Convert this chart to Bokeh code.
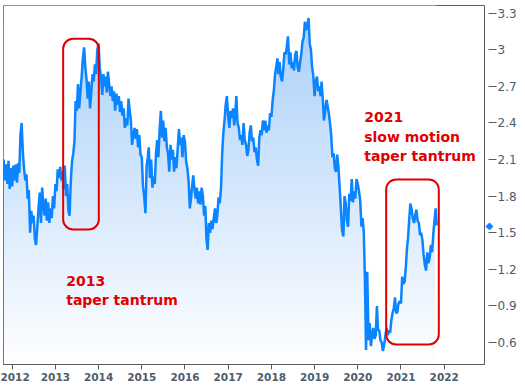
import numpy as np
import pandas as pd
from bokeh.plotting import figure
from bokeh.models import (FixedTicker, NumeralTickFormatter, CustomJSTickFormatter,
                          BoxAnnotation, Label, Range1d, LinearAxis)
from bokeh.embed import file_html
from bokeh.resources import INLINE

# 10-year yield, sampled on the 1st, 11th and 21st of each month
y2011 = [2.10, 1.93, 2.06, 1.90, 2.09, 1.86, 2.03]  # Oct 21, Nov, Dec
y2012 = [1.88, 2.05, 1.93, 2.06, 1.91, 2.07, 1.99, 2.30, 2.40, 2.15, 2.02, 1.93,
         1.98, 1.78, 1.85, 1.50, 1.68, 1.58, 1.64, 1.45, 1.40, 1.55, 1.70, 1.83,
         1.58, 1.87, 1.72, 1.64, 1.78, 1.60, 1.75, 1.58, 1.70, 1.62, 1.80, 1.70]
y2013 = [1.90, 1.84, 2.02, 1.95, 2.04, 1.93, 2.00, 1.86, 2.05, 1.80, 1.90, 1.68,
         1.64, 1.92, 2.08, 2.15, 2.25, 2.58, 2.50, 2.72, 2.52, 2.66, 2.78, 2.93,
         3.02, 2.85, 2.76, 2.60, 2.74, 2.52, 2.66, 2.80, 2.74, 2.88, 2.80, 3.00]
y2014 = [3.05, 2.85, 2.78, 2.63, 2.80, 2.70, 2.78, 2.65, 2.82, 2.71, 2.62, 2.70,
         2.58, 2.66, 2.50, 2.64, 2.55, 2.62, 2.49, 2.58, 2.46, 2.52, 2.36, 2.44,
         2.38, 2.60, 2.50, 2.42, 2.22, 2.30, 2.36, 2.27, 2.35, 2.20, 2.30, 2.14]
y2015 = [2.12, 1.88, 1.80, 1.66, 2.05, 2.12, 2.20, 1.95, 2.10, 1.87, 1.96, 1.90,
         2.15, 2.26, 2.12, 2.35, 2.50, 2.28, 2.42, 2.25, 2.36, 2.20, 2.15, 2.00,
         2.22, 2.10, 2.18, 2.00, 2.12, 2.03, 2.20, 2.35, 2.22, 2.28, 2.12, 2.30]
y2016 = [2.24, 2.08, 2.03, 1.92, 1.70, 1.78, 1.88, 1.97, 1.86, 1.78, 1.87, 1.74,
         1.84, 1.73, 1.87, 1.80, 1.64, 1.72, 1.45, 1.36, 1.58, 1.50, 1.60, 1.53,
         1.62, 1.70, 1.58, 1.64, 1.79, 1.74, 1.86, 2.15, 2.32, 2.42, 2.55, 2.62]
y2017 = [2.45, 2.36, 2.50, 2.44, 2.52, 2.38, 2.46, 2.62, 2.40, 2.36, 2.26, 2.30,
         2.22, 2.40, 2.26, 2.22, 2.13, 2.18, 2.32, 2.38, 2.25, 2.28, 2.16, 2.20,
         2.10, 2.05, 2.28, 2.34, 2.30, 2.42, 2.34, 2.42, 2.32, 2.38, 2.34, 2.48]
y2018 = [2.45, 2.58, 2.66, 2.80, 2.86, 2.93, 2.80, 2.90, 2.78, 2.74, 2.84, 2.98,
         2.96, 3.02, 3.11, 2.88, 2.98, 2.85, 2.90, 2.83, 2.96, 2.99, 2.86, 2.82,
         2.90, 2.97, 3.07, 3.10, 3.23, 3.16, 3.20, 3.26, 3.05, 3.00, 2.86, 2.79]
y2019 = [2.62, 2.74, 2.78, 2.66, 2.70, 2.62, 2.74, 2.60, 2.42, 2.50, 2.59, 2.54,
         2.48, 2.40, 2.30, 2.12, 2.15, 2.03, 2.00, 2.14, 2.04, 1.87, 1.70, 1.52,
         1.47, 1.80, 1.74, 1.60, 1.55, 1.82, 1.76, 1.94, 1.75, 1.84, 1.78, 1.94]
y2020 = [1.90, 1.84, 1.77, 1.55, 1.62, 1.50, 1.13, 0.54, 1.18, 0.62, 0.76, 0.57,
         0.66, 0.72, 0.63, 0.66, 0.90, 0.70, 0.70, 0.62, 0.60, 0.53, 0.58, 0.65,
         0.72, 0.66, 0.70, 0.68, 0.78, 0.84, 0.88, 0.97, 0.84, 0.85, 0.92, 0.94]
y2021 = [0.92, 1.14, 1.08, 1.10, 1.22, 1.38, 1.45, 1.60, 1.74, 1.69, 1.62, 1.58,
         1.64, 1.69, 1.60, 1.58, 1.48, 1.50, 1.44, 1.32, 1.24, 1.19, 1.34, 1.25,
         1.30, 1.40, 1.34, 1.49, 1.60, 1.70, 1.56]  # last: Oct 29

x_ticks = [2012, 2013, 2014, 2015, 2016, 2017, 2018, 2019, 2020, 2021, 2022]
y_ticks = [0.6, 0.9, 1.2, 1.5, 1.8, 2.1, 2.4, 2.7, 3.0, 3.3]

note_2013 = ["2013", "taper tantrum"]
note_2021 = ["2021", "slow motion", "taper tantrum"]

RED = "#e00000"
BLUE = "#0a84ff"
AXIS = "#5a5a5a"
LABEL = "#4e5d6c"


def month_days(year, months):
    return [pd.Timestamp(year, m, d) for m in months for d in (1, 11, 21)]


dates = [pd.Timestamp(2011, 10, 21)] + month_days(2011, [11, 12])
for yr in range(2012, 2021):
    dates += month_days(yr, range(1, 13))
dates += month_days(2021, range(1, 11)) + [pd.Timestamp(2021, 10, 29)]

values = y2011 + y2012 + y2013 + y2014 + y2015 + y2016 + y2017 + y2018 + y2019 + y2020 + y2021
assert len(dates) == len(values)


def dec_year(t):
    n = 366 if t.is_leap_year else 365
    return t.year + (t.dayofyear - 1) / n


xs = [dec_year(t) for t in dates]

x0, x1 = 2011.799, 2022.933
y0, y1 = 0.42, 3.363

p = figure(frame_width=481, frame_height=359,
           x_range=Range1d(x0, x1), y_range=Range1d(y0, y1),
           y_axis_location="right", output_backend="svg", toolbar_location=None,
           min_border_left=3, min_border_top=5, min_border_right=0, min_border_bottom=0)
p.grid.visible = False
p.outline_line_color = AXIS
p.outline_line_width = 1
p.background_fill_color = "white"
p.border_fill_color = "white"

# vertical gradient under the line, masked with white above it
rows = 256
top = np.array([168, 207, 250], dtype=float)
white = np.array([255, 255, 255], dtype=float)
t = np.linspace(0, 1, rows)[:, None]
cols = white * (1 - t) + top * t
img = np.empty((rows, 1), dtype=np.uint32)
view = img.view(dtype=np.uint8).reshape((rows, 1, 4))
view[:, 0, 0] = cols[:, 0].astype(np.uint8)
view[:, 0, 1] = cols[:, 1].astype(np.uint8)
view[:, 0, 2] = cols[:, 2].astype(np.uint8)
view[:, 0, 3] = 255
p.image_rgba(image=[img], x=xs[0], y=y0, dw=xs[-1] - xs[0] - 0.03, dh=y1 - y0)
p.varea(x=xs, y1=values, y2=y1, fill_color="white")
p.line(xs, values, line_color=BLUE, line_width=2.5)

# x axis
xa = p.xaxis[0]
xa.ticker = FixedTicker(ticks=x_ticks)
xa.formatter = NumeralTickFormatter(format="0")
xa.axis_line_color = AXIS
xa.major_tick_line_color = AXIS
xa.major_tick_out = 5
xa.major_tick_in = 0
xa.minor_tick_line_color = None
xa.major_label_text_color = LABEL
xa.major_label_text_font = "DejaVu Sans"
xa.major_label_text_font_size = "10.5px"
xa.major_label_text_font_style = "bold"
xa.major_label_standoff = 3

# inner right axis: only the last-value diamond marker
da = p.yaxis[0]
da.ticker = FixedTicker(ticks=[values[-1]])
da.formatter = CustomJSTickFormatter(code="return '\u25c6';")
da.axis_line_color = None
da.major_tick_out = 0
da.major_tick_in = 0
da.minor_tick_line_color = None
da.major_label_standoff = 1
da.major_label_text_color = BLUE
da.major_label_text_font = "DejaVu Sans"
da.major_label_text_font_size = "10px"

# outer right axis: the value ticks
ya = LinearAxis(ticker=FixedTicker(ticks=y_ticks),
                formatter=NumeralTickFormatter(format="0.[0]"))
ya.axis_line_color = None
ya.major_tick_line_color = AXIS
ya.major_tick_in = 8
ya.major_tick_out = 0
ya.minor_tick_line_color = None
ya.major_label_text_color = LABEL
ya.major_label_text_font = "DejaVu Sans"
ya.major_label_text_font_size = "12px"
ya.major_label_standoff = 1
p.add_layout(ya, "right")

# highlight boxes
p.add_layout(BoxAnnotation(left=2013.18, right=2014.005, top=3.09, bottom=1.527,
                           fill_alpha=0, line_color=RED, line_alpha=1, line_width=2,
                           border_radius=10))
p.add_layout(BoxAnnotation(left=2020.657, right=2021.875, top=1.937, bottom=0.584,
                           fill_alpha=0, line_color=RED, line_alpha=1, line_width=2,
                           border_radius=10))

for i, txt in enumerate(note_2013):
    p.add_layout(Label(x=2013.25, y=1.107 - i * 0.156, text=txt, text_color=RED,
                       text_font="DejaVu Sans", text_font_size="14px",
                       text_font_style="bold", text_baseline="alphabetic"))
for i, txt in enumerate(note_2021):
    p.add_layout(Label(x=2020.148, y=2.448 - i * 0.16, text=txt, text_color=RED,
                       text_font="DejaVu Sans", text_font_size="14px",
                       text_font_style="bold", text_baseline="alphabetic"))

open("out.html", "w").write(file_html(p, INLINE))
